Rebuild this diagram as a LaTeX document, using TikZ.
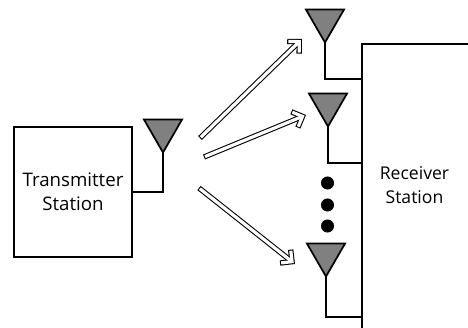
\documentclass[tikz,border=0pt]{standalone}
\usepackage{fontspec}
\setmainfont{Open Sans}
\usetikzlibrary{arrows.meta,shapes.geometric}

\tikzset{
    station/.style={draw, line width=1.3pt, inner sep=0pt, minimum width=89pt, minimum height=98pt, align=center, font=\stationfont},
    stationtext/.style={align=center, inner sep=0pt, font=\receiverfont},
    antenna/.style={draw, line width=1.3pt, fill=black!50, regular polygon, regular polygon sides=3, shape border rotate=180, minimum size=33pt, inner sep=0pt, outer sep=0pt, anchor=corner 1},
    wire/.style={line width=1.3pt},
    beam/.style={line width=4pt, -{Straight Barb[length=6.4pt, width=12.8pt]},
        postaction={draw=white, line width=2.4pt, shorten <=0.8pt, shorten >=1.13pt, -{Straight Barb[length=5.83pt, width=11.66pt]}}},
    dot/.style={circle, fill=black, inner sep=0pt, minimum size=9.8pt},
}
\newcommand{\stationfont}{\fontsize{14}{18}\selectfont}
\newcommand{\receiverfont}{\fontsize{13.2}{18}\selectfont}

\begin{document}
\begin{tikzpicture}[x=0.75pt, y=-0.75pt]
    \useasboundingbox (0,0) rectangle (468,328);
    % transmitter side
    \node [station] (txbox) at (73,192) {Transmitter\\Station};
    \node [antenna] (txant) at (163,152.5) {};
    \draw [wire] (txant.corner 1) |- (txbox.east);
    % receiver side
    \coordinate (rxtop) at (468,44);
    \coordinate (rxcorner) at (362,44);
    \coordinate (rxbottom) at (362,328);
    \draw [wire] (rxtop) -- (rxcorner) -- (rxbottom);
    \node [stationtext] (rxtext) at (414.5,185) {Receiver\\Station};
    \node [antenna] (rxantA) at (325,42.5) {};
    \node [antenna] (rxantB) at (328,126.5) {};
    \node [antenna] (rxantC) at (326,276.5) {};
    \coordinate (rxtapA) at (362,79);
    \coordinate (rxtapB) at (362,163);
    \coordinate (rxtapC) at (362,317);
    \draw [wire] (rxantA.corner 1) |- (rxtapA);
    \draw [wire] (rxantB.corner 1) |- (rxtapB);
    \draw [wire] (rxantC.corner 1) |- (rxtapC);
    \node [dot] (dotA) at (327.5,183) {};
    \node [dot] (dotB) at (327.5,205) {};
    \node [dot] (dotC) at (327.5,226) {};
    % beams
    \coordinate (startA) at (200,138);
    \coordinate (startB) at (204,157);
    \coordinate (startC) at (199,188);
    \coordinate (endA) at (302,39);
    \coordinate (endB) at (306,115);
    \coordinate (endC) at (295,264);
    \draw [beam] (startA) -- (endA);
    \draw [beam] (startB) -- (endB);
    \draw [beam] (startC) -- (endC);
\end{tikzpicture}
\end{document}
